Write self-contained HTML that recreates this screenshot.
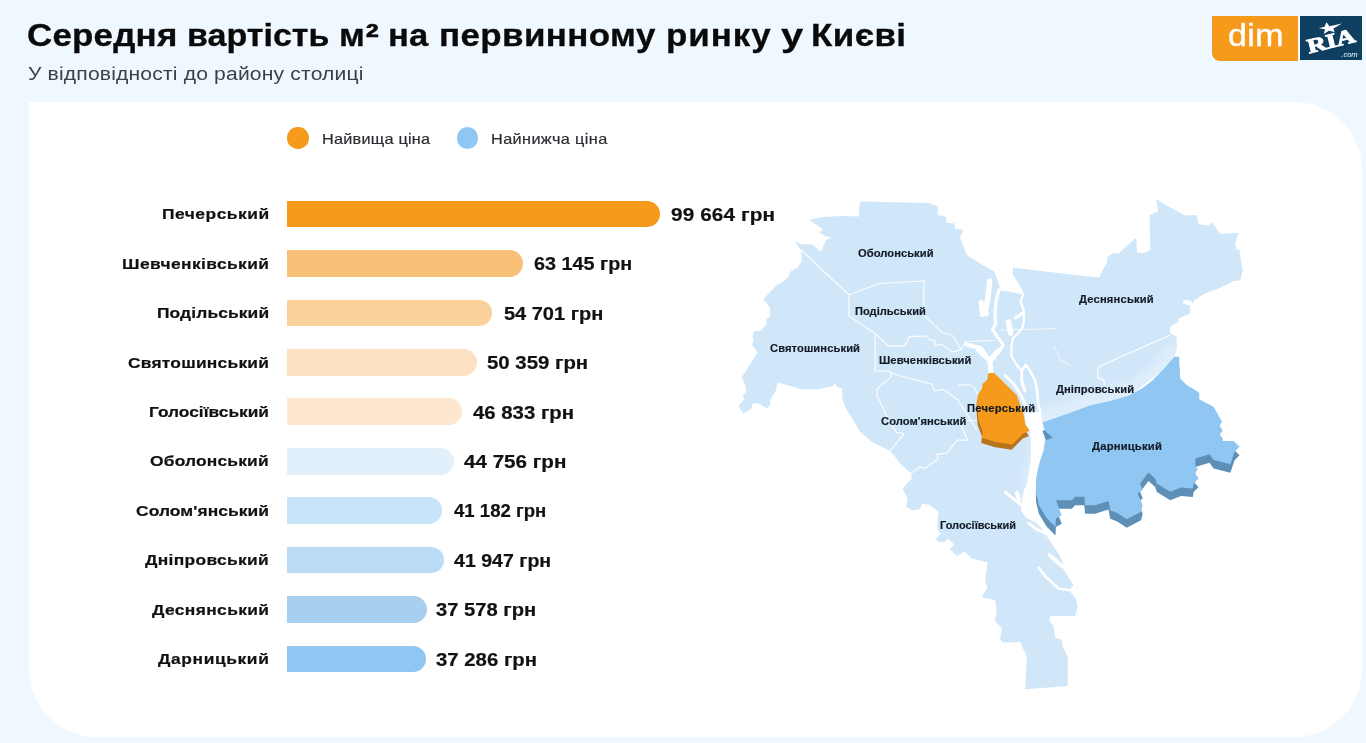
<!DOCTYPE html>
<html lang="uk">
<head>
<meta charset="utf-8">
<title>Середня вартість м² на первинному ринку у Києві</title>
<style>
html,body{margin:0;padding:0;}
body{width:1366px;height:743px;overflow:hidden;background:#f0f8ff;font-family:"Liberation Sans",sans-serif;color:#111;position:relative;}
.abs{position:absolute;white-space:nowrap;line-height:1;transform-origin:0 0;}
#title{margin:0;font-size:31.2px;font-weight:700;color:#0a0a0a;}
.tw{font-size:31.2px;font-weight:700;-webkit-text-stroke:0.3px #0a0a0a;}
.sub{font-size:19.2px;font-weight:400;color:#3c4147;}
#card{position:absolute;left:29px;top:102px;width:1333px;height:635px;background:#fff;border-radius:0 68px 68px 68px;}
.dot{position:absolute;width:21.4px;height:21.4px;border-radius:50%;top:127.4px;}
.leg{font-size:14.8px;color:#2b2e32;-webkit-text-stroke:0.2px #2b2e32;}
.lab{font-size:15.4px;font-weight:700;color:#111;-webkit-text-stroke:0.2px #111;}
.bar{position:absolute;left:287.3px;height:26.8px;border-radius:0 13.4px 13.4px 0;}
.val{font-size:18.2px;font-weight:700;color:#111;-webkit-text-stroke:0.2px #111;}
#map{position:absolute;left:0;top:0;width:1366px;height:743px;}
.ml{font-size:10.2px;font-weight:700;color:#121a26;-webkit-text-stroke:0.15px #121a26;}
#dim{position:absolute;left:1212.2px;top:15.5px;width:86.3px;height:45.5px;background:#f59a1a;border-radius:0 0 0 8px;}
#dimt{font-size:31.5px;color:#fff;-webkit-text-stroke:0.35px #fff;}
#ria{position:absolute;left:1300.2px;top:15.6px;width:61.8px;height:44.8px;background:#0e3f61;overflow:hidden;}
#rsep{position:absolute;left:1298.5px;top:15.5px;width:1.7px;height:45.3px;background:#fbfdff;}
</style>
</head>
<body>
<div id="card"></div>
<div class="dot" style="left:287.3px;background:#f59a1a"></div>
<div class="dot" style="left:457.1px;background:#90c6f2"></div>

<h1 id="title"><span class="abs tw" style="left:27.4px;top:20.3px;letter-spacing:0.18px;transform:scaleX(1.1200)">Середня</span> <span class="abs tw" style="left:187.4px;top:20.3px;letter-spacing:0.00px;transform:scaleX(1.0918)">вартість</span> <span class="abs tw" style="left:339.0px;top:20.3px;letter-spacing:0.6px;transform:scaleX(1.1200)">м<span style="font-size:1.15em;line-height:0;position:relative;top:0.07em">²</span></span> <span class="abs tw" style="left:388.0px;top:20.3px;letter-spacing:0.00px;transform:scaleX(1.1085)">на</span> <span class="abs tw" style="left:438.8px;top:20.3px;letter-spacing:0.36px;transform:scaleX(1.1200)">первинному</span> <span class="abs tw" style="left:666.3px;top:20.3px;letter-spacing:0.85px;transform:scaleX(1.1200)">ринку</span> <span class="abs tw" style="left:780.8px;top:20.3px;letter-spacing:0.00px;transform:scaleX(1.2818)">у</span> <span class="abs tw" style="left:810.9px;top:20.3px;letter-spacing:0.40px;transform:scaleX(1.1200)">Києві</span></h1>
<span class="abs sub" style="left:28.2px;top:64.0px;letter-spacing:0.15px;transform:scaleX(1.1000)">У відповідності до району столиці</span>
<span class="abs leg" style="left:321.8px;top:132.0px;letter-spacing:0.21px;transform:scaleX(1.1000)">Найвища ціна</span>
<span class="abs leg" style="left:491.0px;top:132.0px;letter-spacing:0.34px;transform:scaleX(1.1000)">Найнижча ціна</span>
<span class="abs lab" style="left:161.9px;top:206.3px;letter-spacing:0.45px;transform:scaleX(1.1300)">Печерський</span>
<div class="bar" style="top:200.6px;width:373.2px;background:#f59a1a"></div>
<span class="abs val" style="left:671.2px;top:205.8px;letter-spacing:0.09px;transform:scaleX(1.1400)">99 664 грн</span>
<span class="abs lab" style="left:122.2px;top:255.7px;letter-spacing:0.36px;transform:scaleX(1.1300)">Шевченківський</span>
<div class="bar" style="top:250.0px;width:236.0px;background:#f9c078"></div>
<span class="abs val" style="left:533.8px;top:255.2px;letter-spacing:0.00px;transform:scaleX(1.0881)">63 145 грн</span>
<span class="abs lab" style="left:156.5px;top:305.2px;letter-spacing:0.10px;transform:scaleX(1.1300)">Подільський</span>
<div class="bar" style="top:299.5px;width:204.7px;background:#fad09b"></div>
<span class="abs val" style="left:504.0px;top:304.7px;letter-spacing:0.00px;transform:scaleX(1.0982)">54 701 грн</span>
<span class="abs lab" style="left:127.9px;top:354.6px;letter-spacing:0.20px;transform:scaleX(1.1300)">Святошинський</span>
<div class="bar" style="top:348.9px;width:189.5px;background:#fce2c2"></div>
<span class="abs val" style="left:486.8px;top:354.1px;letter-spacing:0.00px;transform:scaleX(1.1197)">50 359 грн</span>
<span class="abs lab" style="left:149.1px;top:404.0px;letter-spacing:0.00px;transform:scaleX(1.1252)">Голосіївський</span>
<div class="bar" style="top:398.3px;width:174.7px;background:#fde8cf"></div>
<span class="abs val" style="left:473.3px;top:403.5px;letter-spacing:0.00px;transform:scaleX(1.1188)">46 833 грн</span>
<span class="abs lab" style="left:149.8px;top:453.4px;letter-spacing:0.16px;transform:scaleX(1.1300)">Оболонський</span>
<div class="bar" style="top:447.8px;width:167.0px;background:#e2f0fc"></div>
<span class="abs val" style="left:463.6px;top:452.9px;letter-spacing:0.00px;transform:scaleX(1.1333)">44 756 грн</span>
<span class="abs lab" style="left:135.7px;top:502.9px;letter-spacing:0.07px;transform:scaleX(1.1300)">Солом'янський</span>
<div class="bar" style="top:497.2px;width:154.9px;background:#c8e4f8"></div>
<span class="abs val" style="left:453.8px;top:502.4px;letter-spacing:0.00px;transform:scaleX(1.0215)">41 182 грн</span>
<span class="abs lab" style="left:145.1px;top:552.3px;letter-spacing:0.28px;transform:scaleX(1.1300)">Дніпровський</span>
<div class="bar" style="top:546.6px;width:156.4px;background:#bbdbf6"></div>
<span class="abs val" style="left:453.8px;top:551.8px;letter-spacing:0.00px;transform:scaleX(1.0752)">41 947 грн</span>
<span class="abs lab" style="left:151.8px;top:601.7px;letter-spacing:0.33px;transform:scaleX(1.1300)">Деснянський</span>
<div class="bar" style="top:596.0px;width:140.2px;background:#a9cff0"></div>
<span class="abs val" style="left:436.3px;top:601.2px;letter-spacing:0.00px;transform:scaleX(1.1084)">37 578 грн</span>
<span class="abs lab" style="left:158.2px;top:651.2px;letter-spacing:0.54px;transform:scaleX(1.1300)">Дарницький</span>
<div class="bar" style="top:645.5px;width:138.7px;background:#90c6f2"></div>
<span class="abs val" style="left:436.3px;top:650.7px;letter-spacing:0.00px;transform:scaleX(1.1186)">37 286 грн</span>
<svg id="map" width="1366" height="743" viewBox="0 0 1366 743">
<polygon points="860.2,201.4 928.7,203.0 937.8,206.4 937.5,215.0 946.2,216.7 946.5,222.6 954.5,223.4 955.4,228.7 963.4,230.1 960.0,237.6 966.7,255.1 980.1,263.5 994.3,271.8 1012.6,267.6 1046.9,271.8 1099.4,277.6 1102.8,269.3 1107.0,263.5 1107.0,257.6 1112.0,253.4 1118.6,253.4 1136.2,237.6 1137.0,252.6 1143.7,253.1 1150.4,250.1 1149.5,215.0 1158.4,211.4 1155.9,198.7 1170.1,207.5 1185.2,215.4 1196.8,215.0 1198.5,224.2 1208.5,225.4 1211.9,222.6 1220.2,233.7 1238.6,233.1 1235.2,243.4 1236.1,249.3 1239.4,250.1 1241.1,261.8 1242.8,270.1 1240.3,280.2 1233.6,281.0 1220.2,287.7 1203.5,294.3 1194.3,300.2 1192.7,303.5 1190.2,300.2 1183.5,300.2 1182.7,303.5 1190.2,305.8 1190.2,313.4 1178.5,318.4 1178.5,321.7 1170.1,326.7 1170.1,333.4 1176.8,336.7 1176.8,348.4 1174.3,356.8 1160.0,372.0 1100.0,420.0 1045.0,440.0 1040.0,470.0 1038.0,500.0 1040.0,515.0 1037.4,523.0 1045.6,533.3 1051.7,543.5 1055.3,546.8 1062.8,561.8 1062.8,568.5 1073.6,585.2 1068.6,590.2 1075.2,597.5 1077.7,606.7 1075.2,615.9 1050.2,615.9 1049.4,620.9 1053.5,625.9 1055.2,637.6 1061.9,640.1 1062.7,646.8 1067.7,656.8 1067.7,686.0 1025.2,689.3 1026.8,656.8 1020.2,642.1 1002.6,642.6 1000.1,639.3 1001.8,628.4 994.3,620.1 996.8,613.4 995.1,600.0 981.8,597.5 987.6,586.8 985.1,582.7 987.6,562.6 971.8,558.4 964.3,551.8 956.8,556.0 950.1,549.3 954.3,544.3 947.6,538.4 945.1,541.8 938.4,541.8 935.9,539.2 940.9,533.4 937.6,530.0 937.6,520.0 938.5,511.9 930.1,505.2 921.8,503.5 920.1,509.3 912.6,510.2 905.9,506.8 907.6,498.5 902.6,488.5 911.8,478.5 910.9,473.5 898.4,461.8 896.7,458.4 890.1,450.9 871.7,441.7 860.0,431.7 853.5,420.2 846.9,410.2 842.7,400.2 841.9,388.5 836.8,386.8 835.2,382.6 833.5,386.0 818.5,389.3 801.8,389.3 786.8,385.1 777.6,382.6 775.9,390.2 770.1,400.2 770.1,405.2 766.7,408.5 757.5,402.7 751.7,404.3 751.7,408.5 743.4,413.5 738.3,406.0 744.2,399.3 742.5,396.0 745.9,392.7 745.9,386.8 741.7,377.6 750.0,364.3 757.5,352.6 751.7,344.2 753.4,341.7 752.5,335.9 754.2,330.9 760.0,330.9 766.7,324.2 765.9,320.0 770.1,315.9 770.0,307.7 763.4,299.3 768.4,293.5 776.7,285.2 783.4,281.8 788.4,276.8 790.1,271.8 797.6,267.6 801.8,261.0 801.0,250.1 796.8,245.1 796.0,241.4 801.0,244.3 811.8,244.3 821.0,251.8 826.0,240.1 831.8,237.6 825.2,235.9 819.3,232.6 822.7,229.2 809.3,219.7 823.5,217.0 840.2,215.9 859.4,216.4 858.9,208.4" fill="#d0e6f9"/>
<defs><filter id="gl" x="-20%" y="-20%" width="140%" height="140%"><feGaussianBlur stdDeviation="5"/></filter></defs>
<polygon points="1174.3,356.8 1179.3,356.8 1179.3,366.8 1180.2,378.5 1186.8,385.1 1199.3,392.7 1199.3,399.3 1213.5,406.8 1222.0,421.7 1219.5,425.9 1222.8,430.9 1219.5,434.2 1222.8,440.9 1233.7,440.9 1239.5,446.7 1234.5,451.7 1230.4,464.3 1213.7,460.1 1209.5,454.2 1195.3,458.4 1195.3,465.9 1197.8,469.3 1194.4,474.3 1198.6,478.5 1193.6,483.5 1192.8,488.5 1181.1,487.6 1170.2,491.8 1156.9,483.5 1155.2,478.5 1148.5,472.6 1140.2,483.5 1142.7,490.1 1137.7,493.5 1142.7,505.2 1141.0,511.8 1126.8,519.3 1116.8,512.7 1110.2,510.2 1108.5,501.0 1095.1,505.2 1085.1,505.2 1084.3,496.8 1075.1,496.8 1071.8,500.2 1055.9,500.2 1061.7,515.2 1055.9,518.5 1055.5,527.0 1046.6,518.0 1039.0,505.6 1036.0,493.3 1035.9,480.1 1037.9,469.2 1040.0,461.0 1043.5,450.7 1045.0,440.5 1052.6,437.5 1045.9,431.7 1042.5,422.5 1066.9,414.0 1090.0,405.4 1112.0,400.5 1128.0,396.0 1142.0,388.5 1153.0,380.0 1163.0,369.5" fill="#fff" stroke="#fff" stroke-width="26" stroke-linejoin="round" opacity="0.3" filter="url(#gl)"/>
<polygon points="994.2,271.4 990.0,266.0 1014.0,262.0 1012.8,267.8 1012.8,274.3 1019.9,285.7 1023.5,292.8 1023.3,294.6 1011.4,292.0 1000.7,290.6 997.1,278.5" fill="#fff"/>
<polygon points="1024.6,414.0 1040.2,412.0 1042.0,423.0 1043.0,430.2 1045.0,440.5 1043.5,450.7 1040.0,461.0 1037.9,469.2 1036.4,481.5 1035.9,493.3 1038.9,505.6 1046.6,517.9 1055.5,527.0 1056.5,536.0 1062.0,546.0 1066.0,556.0 1059.9,556.0 1051.7,543.5 1045.6,533.3 1037.4,523.0 1026.1,517.9 1021.0,510.7 1022.0,500.5 1024.1,490.2 1027.6,481.5 1030.7,461.0 1030.7,440.5 1029.7,430.8 1025.6,425.1" fill="#fff"/>
<path d="M989.6 281.0 L988.6 292.0 L987.2 302.0 L985.2 311.0" fill="none" stroke="#fff" stroke-width="5.5" stroke-linejoin="round" stroke-linecap="round"/>
<path d="M981.2 302.5 L982.3 314.5 L986.5 313.5" fill="none" stroke="#fff" stroke-width="5" stroke-linejoin="round" stroke-linecap="round"/>
<path d="M999.0 290.0 L996.2 300.0 L995.0 312.0 L995.6 324.0 L992.6 329.5 L998.0 338.0 L1003.2 344.5 L999.5 351.5 L994.0 357.0 L990.0 361.0 L991.0 373.0" fill="none" stroke="#fff" stroke-width="3.2" stroke-linejoin="round" stroke-linecap="round"/>
<path d="M994.0 357.0 L990.0 361.0 L991.0 373.0" fill="none" stroke="#fff" stroke-width="5" stroke-linejoin="round" stroke-linecap="round"/>
<path d="M1023.3 294.3 L1020.5 301.5 L1023.6 310.0 L1024.0 320.0 L1022.8 327.0 L1018.5 332.8 L1012.8 338.5 L1011.4 347.0 L1011.5 356.1 L1017.6 366.4 L1021.7 370.5" fill="none" stroke="#fff" stroke-width="2.2" stroke-linejoin="round" stroke-linecap="round"/>
<path d="M1016.0 317.5 L1023.5 312.5" fill="none" stroke="#fff" stroke-width="3.5" stroke-linejoin="round" stroke-linecap="round"/>
<path d="M1008.5 322.0 L1010.5 333.0" fill="none" stroke="#fff" stroke-width="5.5" stroke-linejoin="round" stroke-linecap="round"/>
<path d="M1021.7 370.5 L1025.8 364.9 L1029.9 370.5 L1035.1 380.7 L1037.1 391.0 L1038.1 403.3 L1040.2 411.5 L1040.2 420.0" fill="none" stroke="#fff" stroke-width="2.6" stroke-linejoin="round" stroke-linecap="round"/>
<path d="M1021.7 370.5 L1021.7 380.7 L1024.8 391.0" fill="none" stroke="#fff" stroke-width="3" stroke-linejoin="round" stroke-linecap="round"/>
<path d="M1005.3 375.6 L1013.5 383.8 L1019.7 393.0 L1025.8 405.3 L1027.9 415.6" fill="none" stroke="#fff" stroke-width="3" stroke-linejoin="round" stroke-linecap="round"/>
<path d="M966.4 344.5 L974.6 346.6 L980.7 348.0 L987.0 357.0" fill="none" stroke="#fff" stroke-width="4" stroke-linejoin="round" stroke-linecap="round"/>
<path d="M977.7 350.0 L989.0 360.2" fill="none" stroke="#fff" stroke-width="4" stroke-linejoin="round" stroke-linecap="round"/>
<path d="M998.7 350.0 L989.0 360.2" fill="none" stroke="#fff" stroke-width="4" stroke-linejoin="round" stroke-linecap="round"/>
<path d="M1005.6 492.3 L1022.0 505.6" fill="none" stroke="#fff" stroke-width="3" stroke-linejoin="round" stroke-linecap="round"/>
<path d="M1017.0 493.0 L1019.0 500.0" fill="none" stroke="#fff" stroke-width="4" stroke-linejoin="round" stroke-linecap="round"/>
<path d="M1028.2 523.0 L1036.0 529.0 L1045.6 533.3" fill="none" stroke="#fff" stroke-width="2.5" stroke-linejoin="round" stroke-linecap="round"/>
<path d="M1049.4 555.1 L1062.0 566.0" fill="none" stroke="#fff" stroke-width="4" stroke-linejoin="round" stroke-linecap="round"/>
<path d="M1038.6 567.6 L1046.0 577.0 L1058.6 588.5 L1068.0 590.0" fill="none" stroke="#fff" stroke-width="2.6" stroke-linejoin="round" stroke-linecap="round"/>
<path d="M801.0 250.0 L848.9 294.8 L848.9 315.9 L875.2 333.4 L887.8 345.9 L904.5 345.9 L909.5 336.7 L925.3 335.9 L930.3 340.1 L934.5 340.1 L935.3 345.9 L942.0 344.2 L952.0 351.8 L961.3 349.7 L965.4 341.5 L995.1 340.5" fill="none" stroke="#fff" stroke-width="1.2" stroke-linejoin="round" stroke-opacity="0.92"/>
<path d="M848.9 294.8 L879.4 283.5 L924.5 281.0 L923.7 286.8 L923.7 315.0 L942.0 332.6 L952.0 335.0 L961.3 349.7" fill="none" stroke="#fff" stroke-width="1.2" stroke-linejoin="round" stroke-opacity="0.92"/>
<path d="M875.2 333.4 L875.2 371.0 L888.6 371.0 L892.0 373.5 L932.0 384.3 L934.5 391.0 L943.7 389.3 L958.0 400.2 L976.9 430.0" fill="none" stroke="#fff" stroke-width="1.2" stroke-linejoin="round" stroke-opacity="0.92"/>
<path d="M892.0 373.5 L890.3 377.6 L876.9 389.3 L876.9 395.2 L888.6 420.2 L896.7 432.6 L904.3 433.4 L890.1 450.9" fill="none" stroke="#fff" stroke-width="1.2" stroke-linejoin="round" stroke-opacity="0.92"/>
<path d="M910.9 473.5 L920.1 466.8 L925.1 468.4 L938.5 458.4 L936.0 454.3 L946.8 453.4 L956.8 440.1 L967.7 440.1 L961.9 427.5 L963.0 420.0 L977.0 421.0" fill="none" stroke="#fff" stroke-width="1.2" stroke-linejoin="round" stroke-opacity="0.92"/>
<path d="M1170.1 335.1 L1098.3 366.8 L1097.5 377.6 L1104.2 380.1 L1104.2 385.1" fill="none" stroke="#fff" stroke-width="1.2" stroke-linejoin="round" stroke-opacity="0.92"/>
<path d="M1054.4 346.8 L1060.2 360.1 L1070.2 365.1" fill="none" stroke="#fff" stroke-width="0.8" stroke-linejoin="round" stroke-opacity="0.92"/>
<path d="M999.2 330.2 L1056.6 328.6" fill="none" stroke="#fff" stroke-width="0.8" stroke-linejoin="round" stroke-opacity="0.92"/>
<path d="M958.0 385.0 L970.0 385.0 L975.0 388.0 L978.0 396.0" fill="none" stroke="#fff" stroke-width="1.0" stroke-linejoin="round" stroke-opacity="0.92"/>
<polygon points="1174.3,365.3 1179.3,365.3 1179.3,375.3 1180.2,387.0 1186.8,393.6 1199.3,401.2 1199.3,407.8 1213.5,415.3 1222.0,430.2 1219.5,434.4 1222.8,439.4 1219.5,442.7 1222.8,449.4 1233.7,449.4 1239.5,455.2 1234.5,460.2 1230.4,472.8 1213.7,468.6 1209.5,462.7 1195.3,466.9 1195.3,474.4 1197.8,477.8 1194.4,482.8 1198.6,487.0 1193.6,492.0 1192.8,497.0 1181.1,496.1 1170.2,500.3 1156.9,492.0 1155.2,487.0 1148.5,481.1 1140.2,492.0 1142.7,498.6 1137.7,502.0 1142.7,513.7 1141.0,520.3 1126.8,527.8 1116.8,521.2 1110.2,518.7 1108.5,509.5 1095.1,513.7 1085.1,513.7 1084.3,505.3 1075.1,505.3 1071.8,508.7 1055.9,508.7 1061.7,523.7 1055.9,527.0 1055.5,535.5 1046.6,526.5 1039.0,514.1 1036.0,501.8 1035.9,488.6 1037.9,477.7 1040.0,469.5 1043.5,459.2 1045.0,449.0 1052.6,446.0 1045.9,440.2 1042.5,431.0 1066.9,422.5 1090.0,413.9 1112.0,409.0 1128.0,404.5 1142.0,397.0 1153.0,388.5 1163.0,378.0" fill="#5e8fb7"/>
<polygon points="1174.3,356.8 1179.3,356.8 1179.3,366.8 1180.2,378.5 1186.8,385.1 1199.3,392.7 1199.3,399.3 1213.5,406.8 1222.0,421.7 1219.5,425.9 1222.8,430.9 1219.5,434.2 1222.8,440.9 1233.7,440.9 1239.5,446.7 1234.5,451.7 1230.4,464.3 1213.7,460.1 1209.5,454.2 1195.3,458.4 1195.3,465.9 1197.8,469.3 1194.4,474.3 1198.6,478.5 1193.6,483.5 1192.8,488.5 1181.1,487.6 1170.2,491.8 1156.9,483.5 1155.2,478.5 1148.5,472.6 1140.2,483.5 1142.7,490.1 1137.7,493.5 1142.7,505.2 1141.0,511.8 1126.8,519.3 1116.8,512.7 1110.2,510.2 1108.5,501.0 1095.1,505.2 1085.1,505.2 1084.3,496.8 1075.1,496.8 1071.8,500.2 1055.9,500.2 1061.7,515.2 1055.9,518.5 1055.5,527.0 1046.6,518.0 1039.0,505.6 1036.0,493.3 1035.9,480.1 1037.9,469.2 1040.0,461.0 1043.5,450.7 1045.0,440.5 1052.6,437.5 1045.9,431.7 1042.5,422.5 1066.9,414.0 1090.0,405.4 1112.0,400.5 1128.0,396.0 1142.0,388.5 1153.0,380.0 1163.0,369.5" fill="#90c6f2"/>
<polygon points="988.2,378.3 993.4,378.3 1000.5,384.9 1008.7,393.1 1015.9,400.3 1019.0,408.5 1023.1,420.8 1024.9,430.3 1029.0,436.0 1022.8,438.5 1011.6,449.8 995.2,447.2 981.3,443.1 981.9,436.5 977.7,425.2 976.8,415.2 976.5,406.4 977.0,400.3 981.1,394.1 982.1,389.0 986.7,384.9 987.2,379.8" fill="#b7741d"/>
<polygon points="988.9,373.1 994.1,373.1 1001.2,379.7 1009.4,387.9 1016.6,395.1 1019.7,403.3 1023.8,415.6 1025.6,425.1 1029.7,430.8 1023.5,433.3 1012.3,444.6 995.9,442.0 982.0,437.9 982.6,431.3 978.4,420.0 977.5,410.0 977.2,401.2 977.7,395.1 981.8,388.9 982.8,383.8 987.4,379.7 987.9,374.6" fill="#f59a1a"/>
</svg>
<span class="abs ml" style="left:858.4px;top:248.6px;letter-spacing:0.02px;transform:scaleX(1.1000)">Оболонський</span>
<span class="abs ml" style="left:855.0px;top:306.5px;letter-spacing:0.00px;transform:scaleX(1.0890)">Подільський</span>
<span class="abs ml" style="left:770.1px;top:343.9px;letter-spacing:0.07px;transform:scaleX(1.1000)">Святошинський</span>
<span class="abs ml" style="left:878.9px;top:355.7px;letter-spacing:0.08px;transform:scaleX(1.1000)">Шевченківський</span>
<span class="abs ml" style="left:881.2px;top:417.2px;letter-spacing:0.03px;transform:scaleX(1.1000)">Солом'янський</span>
<span class="abs ml" style="left:966.5px;top:403.6px;letter-spacing:0.21px;transform:scaleX(1.1000)">Печерський</span>
<span class="abs ml" style="left:939.6px;top:520.5px;letter-spacing:0.00px;transform:scaleX(1.0783)">Голосіївський</span>
<span class="abs ml" style="left:1079.1px;top:294.8px;letter-spacing:0.15px;transform:scaleX(1.1000)">Деснянський</span>
<span class="abs ml" style="left:1056.0px;top:384.8px;letter-spacing:0.05px;transform:scaleX(1.1000)">Дніпровський</span>
<span class="abs ml" style="left:1092.3px;top:442.2px;letter-spacing:0.19px;transform:scaleX(1.1000)">Дарницький</span>
<div id="dim"></div>
<span class="abs" id="dimt" style="left:1228.0px;top:20.4px;letter-spacing:0.30px;transform:scaleX(1.0800)">dim</span>
<div id="rsep"></div>
<div id="ria">
<svg width="62" height="45" viewBox="0 0 62 45">
<g transform="translate(32.8,31.6) rotate(-14)">
<text x="0" y="0" text-anchor="middle" font-family="'Liberation Serif',serif" font-weight="700" font-size="20.5" fill="#fff" stroke="#fff" stroke-width="0.9" textLength="49" lengthAdjust="spacingAndGlyphs">RIA</text>
</g>
<polygon points="26.5,6.2 29.5,10.3 42,7.6 33.5,12.5 34.5,16 29,14.8 23.8,18 25,13.2 18.8,12.2 24.6,10.8" fill="#fff"/>
<text x="57.6" y="45.6" text-anchor="end" font-family="'Liberation Sans',sans-serif" font-style="italic" font-size="7.5" fill="#fff" transform="translate(0,-5)">.com</text>
</svg>
</div>
</body>
</html>
